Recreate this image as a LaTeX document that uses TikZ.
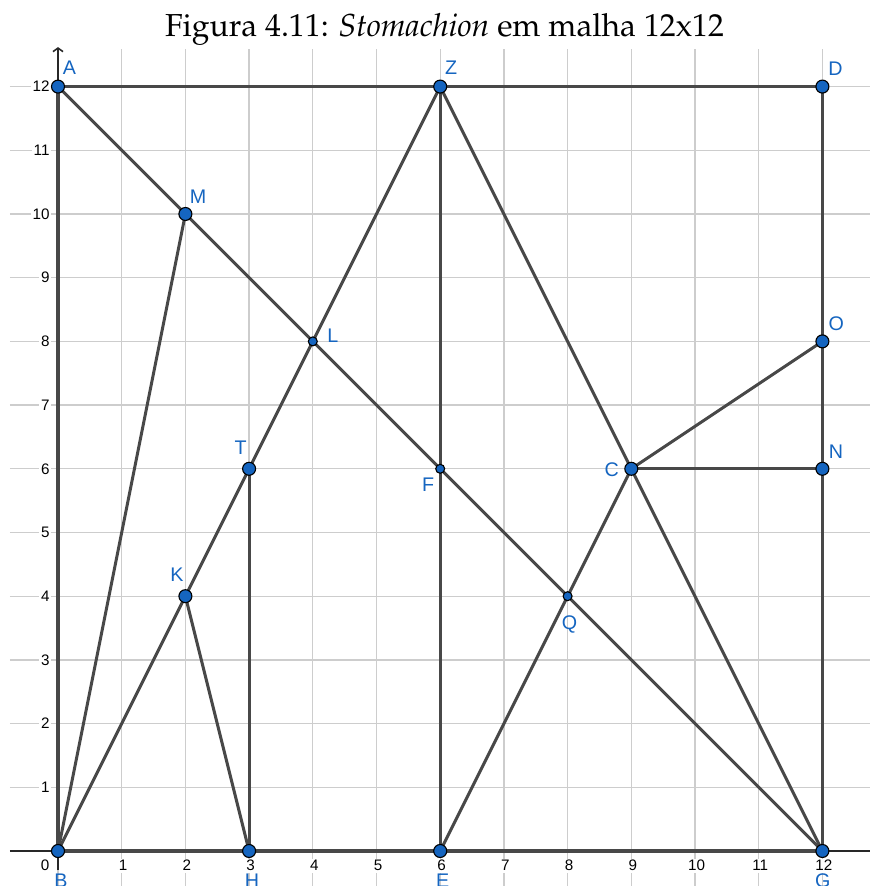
\documentclass[tikz,border=0pt]{standalone}
\usepackage[T1,TU]{fontenc}
\usepackage{fontspec}
\usepackage{graphicx}
\usetikzlibrary{arrows.meta}
\newfontfamily\labfont{Liberation Sans}
\definecolor{ggblue}{RGB}{21,101,192}
\definecolor{seggray}{RGB}{72,72,72}
\definecolor{gridgray}{RGB}{205,205,205}
\definecolor{axisgray}{RGB}{40,40,40}
\newcommand{\ptlab}[3]{\node[lbl] (l#1) at ([xshift={(#2)*0.4467pt},yshift={-(#3)*0.4467pt}]#1) {#1};}
\tikzset{
  gridline/.style={gridgray, line width=0.6pt},
  axisline/.style={axisgray, line width=0.7pt},
  seg/.style={seggray, line width=1.35pt, line join=round, line cap=round},
  bigpt/.style={circle, fill=ggblue, draw=black, line width=0.5pt, minimum size=5.8pt, inner sep=0pt},
  smallpt/.style={circle, fill=ggblue, draw=black, line width=0.5pt, minimum size=4pt, inner sep=0pt},
  lbl/.style={anchor=base, text=ggblue, inner sep=0pt, font=\labfont\fontsize{8.8}{10}\selectfont},
  ticklbl/.style={fill=white, inner sep=0.8pt, text=black, font=\labfont\fontsize{6.8}{8}\selectfont},
}
\begin{document}
\begin{tikzpicture}
\useasboundingbox (-0.9105,-0.5495) rectangle (12.7316,13.3595);
% grid
\foreach \i in {0,...,12} \draw[gridline] (\i,-0.56) -- (\i,12.59);
\foreach \j in {0,...,12} \draw[gridline] (-0.754,\j) -- (12.74,\j);
% axes
\coordinate (xa0) at (-0.754,0);
\coordinate (xa1) at (12.74,0);
\coordinate (ya0) at (0,-0.30);
\coordinate (ya1) at (0,12.62);
\draw[axisline] (xa0) -- (xa1);
\draw[axisline, -{Straight Barb[length=1.6pt,width=4.5pt]}] (ya0) -- (ya1);
% tick labels
\node[ticklbl, anchor=base, xshift=-5.8pt, yshift=-8.93pt] (xt0) at (0,0) {0};
\foreach \i in {1,...,12} \node[ticklbl, anchor=base, xshift=0.67pt, yshift=-8.93pt] (xt\i) at (\i,0) {\i};
\foreach \j in {1,...,12} \node[ticklbl, anchor=east, xshift=-2.8pt] (yt\j) at (0,\j) {\j};
% title
\node[anchor=base, inner sep=0pt] (title) at (6.068,12.794)
  {\resizebox{249.7pt}{!}{\fontencoding{T1}\fontfamily{ppl}\fontsize{13}{15}\selectfont Figura 4.11: {\fontshape{it}\selectfont Stomachion} em malha 12x12}};
% points
\coordinate (A) at (0,12);
\coordinate (B) at (0,0);
\coordinate (D) at (12,12);
\coordinate (G) at (12,0);
\coordinate (Z) at (6,12);
\coordinate (E) at (6,0);
\coordinate (H) at (3,0);
\coordinate (M) at (2,10);
\coordinate (L) at (4,8);
\coordinate (T) at (3,6);
\coordinate (K) at (2,4);
\coordinate (F) at (6,6);
\coordinate (C) at (9,6);
\coordinate (Q) at (8,4);
\coordinate (O) at (12,8);
\coordinate (N) at (12,6);
% segments
\draw[seg] (A) -- (D) -- (G) -- (B) -- cycle;
\draw[seg] (A) -- (M) -- (L) -- (F) -- (Q) -- (G);
\draw[seg] (B) -- (M);
\draw[seg] (B) -- (K) -- (T) -- (L) -- (Z);
\draw[seg] (Z) -- (E);
\draw[seg] (Z) -- (C) -- (G);
\draw[seg] (E) -- (Q) -- (C);
\draw[seg] (K) -- (H);
\draw[seg] (T) -- (H);
\draw[seg] (C) -- (O);
\draw[seg] (C) -- (N);
% dots
\foreach \p in {A,B,D,G,Z,E,H,M,T,K,C,O,N} \node[bigpt] (dot\p) at (\p) {};
\foreach \p in {L,F,Q} \node[smallpt] (dot\p) at (\p) {};
% labels
\ptlab{A}{11.5}{-12}
\ptlab{Z}{11}{-12}
\ptlab{D}{13}{-11.5}
\ptlab{M}{12.6}{-10.5}
\ptlab{L}{20}{1}
\ptlab{O}{14}{-10.5}
\ptlab{N}{13.5}{-10.5}
\ptlab{T}{-8.5}{-14}
\ptlab{K}{-8.4}{-15}
\ptlab{C}{-19.5}{7.5}
\ptlab{F}{-12}{22.5}
\ptlab{Q}{2}{33}
\ptlab{B}{3}{37}
\ptlab{H}{3}{37}
\ptlab{E}{2.5}{37}
\ptlab{G}{0.5}{37}
\end{tikzpicture}
\end{document}
